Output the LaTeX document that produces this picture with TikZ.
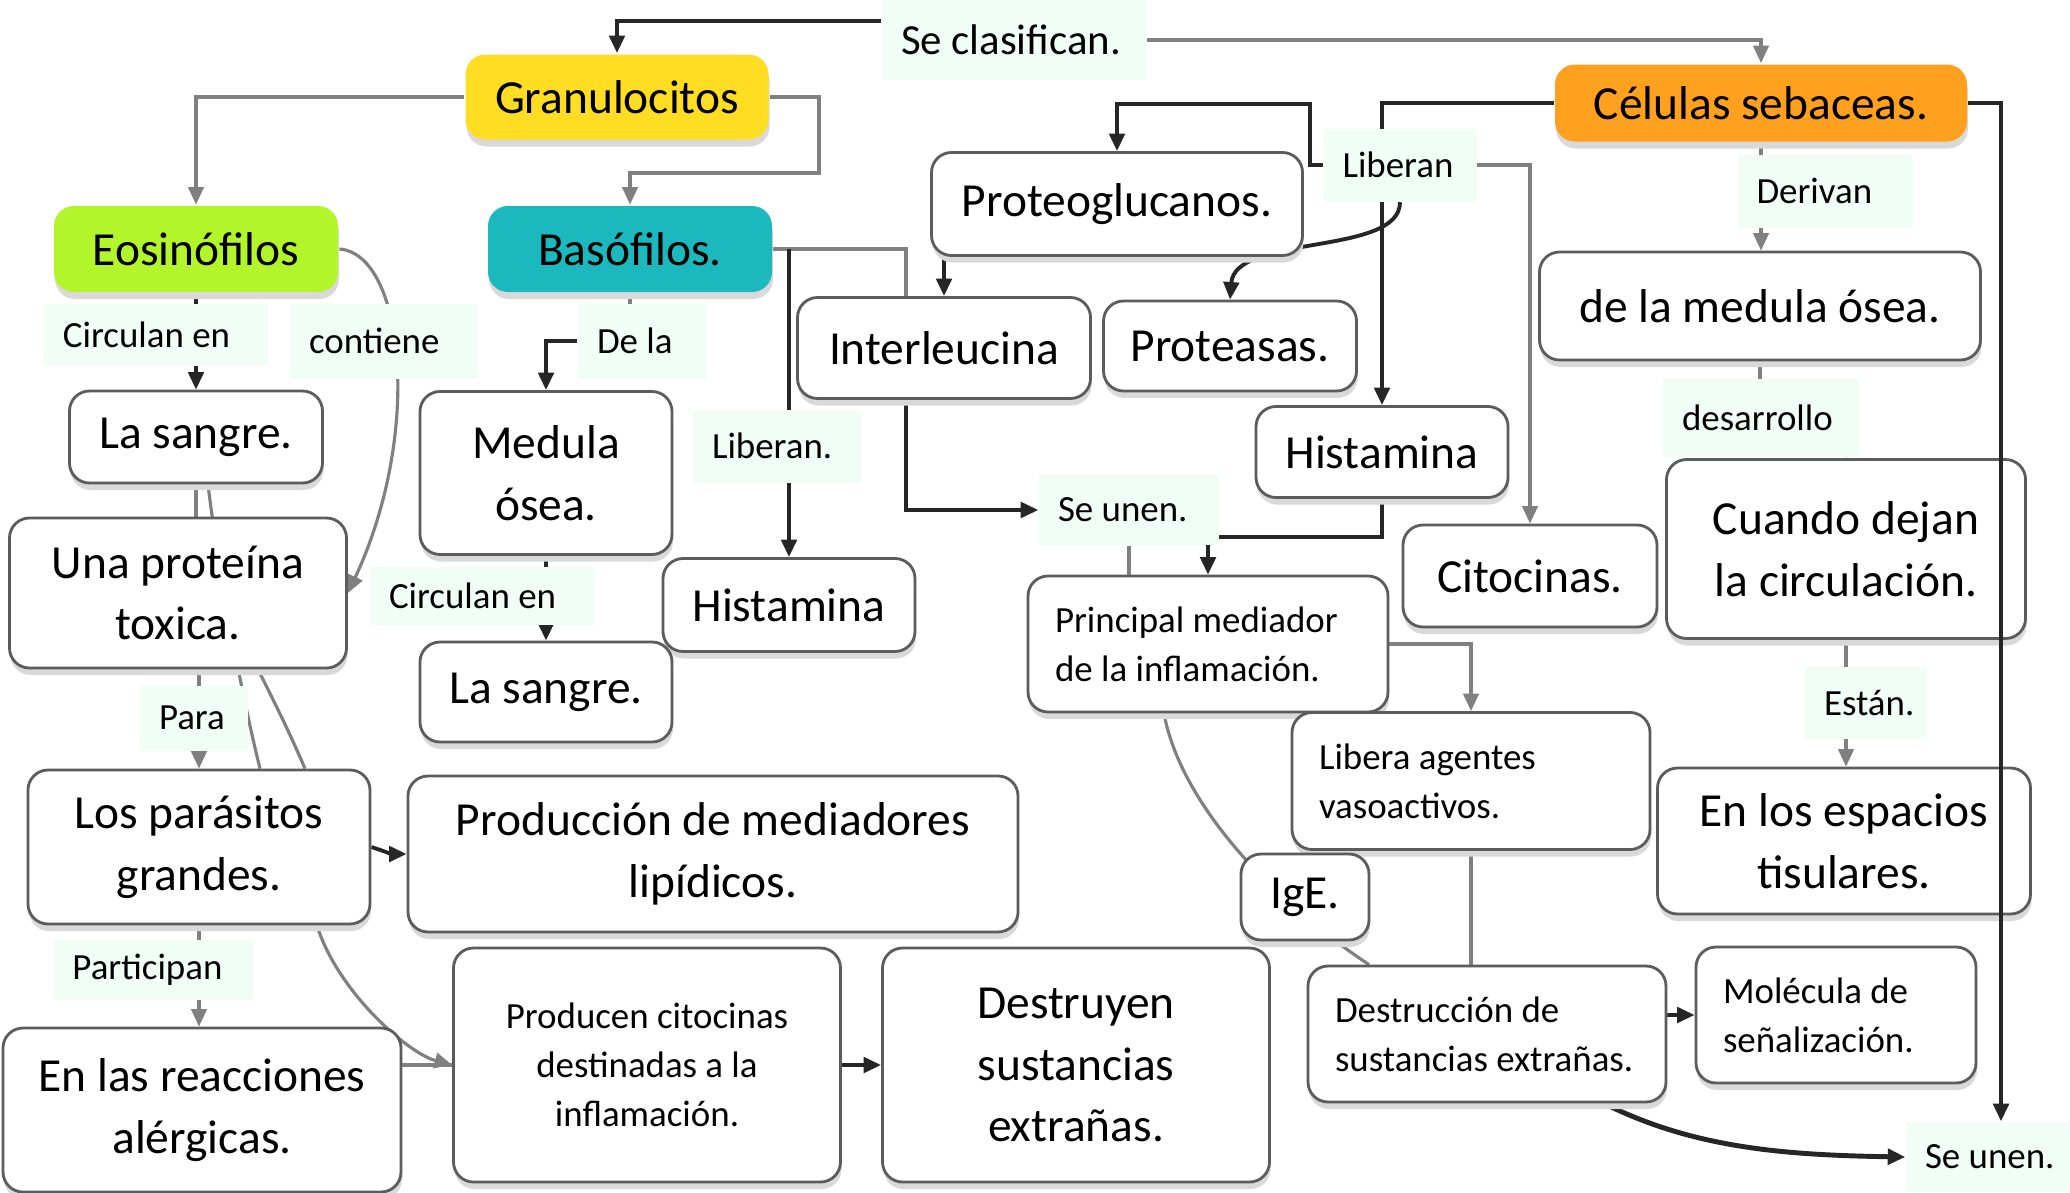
\documentclass[tikz,border=0pt]{standalone}
\usepackage{fontspec}
\setmainfont{Carlito}
\usetikzlibrary{arrows.meta,shadows,backgrounds}

\definecolor{granuyellow}{HTML}{FFDD22}
\definecolor{eosgreen}{HTML}{B2F52B}
\definecolor{basoteal}{HTML}{1BB9BD}
\definecolor{celorange}{HTML}{FFA01E}
\definecolor{tagbg}{HTML}{F0FEF6}
\definecolor{boxgray}{HTML}{5C5C5C}
\definecolor{linegray}{HTML}{808080}
\definecolor{linedark}{HTML}{262626}

\newcommand{\boxfont}{\fontsize{13.5}{17.6}\selectfont}
\newcommand{\tagfont}{\fontsize{10.5}{13.9}\selectfont}

\tikzset{
	box/.style={draw=boxgray, line width=0.8pt, rounded corners=0.2cm, fill=white, inner sep=0pt, align=center, font=\boxfont,
		drop shadow={shadow xshift=0.01cm, shadow yshift=-0.07cm, fill=black!15, opacity=1}},
	smallbox/.style={box, font=\tagfont},
	leftbox/.style={box, font=\tagfont, align=flush left, inner xsep=0.27cm},
	topic/.style={box, draw=none},
	tag/.style={fill=tagbg, inner xsep=0.19cm, inner ysep=0pt, align=flush left, font=\tagfont},
	conn/.style={draw=linegray, line width=0.9pt},
	darkconn/.style={draw=linedark, line width=1.1pt},
	arr/.style={-{Triangle[length=5pt,width=4.4pt]}}
}

\begin{document}
\begin{tikzpicture}
	\useasboundingbox (0,0) rectangle (20.7,-11.92);

	% top
	\node[tag, font=\fontsize{12.2}{15}\selectfont, text width=2.26cm, minimum height=0.80cm] (seclas) at (10.14,-0.40) {Se clasifican.};
	\node[topic, fill=granuyellow, minimum width=3.03cm, minimum height=0.85cm] (granu) at (6.17,-0.97) {Granulocitos};
	\node[topic, fill=celorange, minimum width=4.12cm, minimum height=0.77cm] (celulas) at (17.61,-1.03) {Células sebaceas.};
	\node[topic, fill=eosgreen, minimum width=2.84cm, minimum height=0.86cm] (eosin) at (1.96,-2.49) {Eosinófilos};
	\node[topic, fill=basoteal, minimum width=2.84cm, minimum height=0.86cm] (baso) at (6.30,-2.49) {Basófilos.};

	% boxes
	\node[box, minimum width=3.71cm, minimum height=1.03cm] (proteo) at (11.17,-2.04) {Proteoglucanos.};
	\node[box, minimum width=4.41cm, minimum height=1.08cm] (medulaB) at (17.60,-3.06) {de la medula ósea.};
	\node[box, minimum width=2.93cm, minimum height=1.01cm] (inter) at (9.44,-3.48) {Interleucina};
	\node[box, minimum width=2.53cm, minimum height=0.90cm] (protea) at (12.30,-3.46) {Proteasas.};
	\node[box, minimum width=2.52cm, minimum height=0.91cm] (histaB) at (13.82,-4.52) {Histamina};
	\node[box, minimum width=2.53cm, minimum height=0.92cm] (sangreA) at (1.96,-4.37) {La sangre.};
	\node[box, minimum width=2.52cm, minimum height=1.63cm] (medulaA) at (5.46,-4.73) {Medula\\ósea.};
	\node[box, minimum width=2.54cm, minimum height=1.02cm] (citoc) at (15.30,-5.76) {Citocinas.};
	\node[box, minimum width=3.59cm, minimum height=1.79cm] (cuando) at (18.46,-5.49) {Cuando dejan\\la circulación.};
	\node[box, minimum width=3.37cm, minimum height=1.50cm] (proteina) at (1.78,-5.93) {Una proteína\\toxica.};
	\node[box, minimum width=2.52cm, minimum height=0.93cm] (histaA) at (7.89,-6.05) {Histamina};
	\node[leftbox, text width=3.06cm, minimum width=3.60cm, minimum height=1.36cm] (princ) at (12.08,-6.44) {Principal mediador\\de la inflamación.};
	\node[box, minimum width=2.52cm, minimum height=1.00cm] (sangreB) at (5.46,-6.92) {La sangre.};
	\node[leftbox, text width=3.04cm, minimum width=3.58cm, minimum height=1.37cm] (libera) at (14.71,-7.81) {Libera agentes\\vasoactivos.};
	\node[box, minimum width=3.42cm, minimum height=1.54cm] (parasitos) at (1.99,-8.47) {Los parásitos\\grandes.};
	\node[box, minimum width=6.10cm, minimum height=1.56cm] (produccion) at (7.13,-8.54) {Producción de mediadores\\lipídicos.};
	\node[box, minimum width=3.73cm, minimum height=1.46cm] (espacios) at (18.44,-8.41) {En los espacios\\tisulares.};
	\node[box, minimum width=1.28cm, minimum height=0.86cm] (ige) at (13.05,-8.97) {IgE.};
	\node[box, minimum width=3.98cm, minimum height=1.64cm] (reacc) at (2.02,-11.10) {En las reacciones\\alérgicas.};
	\node[smallbox, minimum width=3.87cm, minimum height=2.34cm] (producen) at (6.47,-10.65) {Producen citocinas\\destinadas a la\\inflamación.};
	\node[box, minimum width=3.87cm, minimum height=2.34cm] (destruyen) at (10.76,-10.65) {Destruyen\\sustancias\\extrañas.};
	\node[leftbox, text width=3.04cm, minimum width=3.58cm, minimum height=1.36cm] (destruccion) at (14.87,-10.34) {Destrucción de\\sustancias extrañas.};
	\node[leftbox, text width=2.26cm, minimum width=2.80cm, minimum height=1.36cm] (molecula) at (18.36,-10.15) {Molécula de\\señalización.};

	% label
	\node[tag, text width=1.15cm, minimum height=0.73cm] (liberanA) at (14.00,-1.65) {Liberan};
	\node[tag, text width=1.37cm, minimum height=0.73cm] (derivan) at (18.25,-1.91) {Derivan};
	\node[tag, text width=1.86cm, minimum height=0.62cm] (circA) at (1.56,-3.35) {Circulan en};
	\node[tag, text width=1.50cm, minimum height=0.75cm] (contiene) at (3.84,-3.41) {contiene};
	\node[tag, text width=0.90cm, minimum height=0.75cm] (dela) at (6.42,-3.41) {De la};
	\node[tag, text width=1.58cm, minimum height=0.78cm] (desarr) at (17.61,-4.18) {desarrollo};
	\node[tag, text width=1.30cm, minimum height=0.73cm] (liberanB) at (7.77,-4.46) {Liberan.};
	\node[tag, text width=1.42cm, minimum height=0.70cm] (seunenA) at (11.29,-5.10) {Se unen.};
	\node[tag, text width=1.86cm, minimum height=0.58cm] (circB) at (4.82,-5.96) {Circulan en};
	\node[tag, text width=0.70cm, minimum height=0.65cm] (para) at (1.94,-7.18) {Para};
	\node[tag, text width=0.84cm, minimum height=0.72cm] (estan) at (18.66,-7.03) {Están.};
	\node[tag, text width=1.61cm, minimum height=0.60cm] (particip) at (1.53,-9.70) {Participan};
	\node[tag, text width=1.36cm, minimum height=0.70cm] (seunenB) at (19.93,-11.57) {Se unen.};

	\begin{scope}[on background layer]
		\fill[white] (0,0) rectangle (20.7,-11.92);
		% top
		\draw[darkconn, arr] ([yshift=0.19cm]seclas.west) -| (granu.north);
		\draw[conn, arr] (seclas.east) -| (celulas.north);
		\draw[conn, arr] (granu.west) -| (eosin.north);
		\draw[conn, arr] (granu.east) -- ++(0.49,0) -- ++(0,-0.76) -| (baso.north);
		% eosinofilos
		\draw[darkconn, arr] (eosin.south) -- (eosin.south |- sangreA.north);
		\draw[conn, arr] (eosin.east) .. controls +(0.65,-0.05) and +(0.75,1.6) .. (proteina.east);
		\draw[conn] (sangreA.south) -- (sangreA.south |- proteina.north);
		\draw[conn] ([xshift=0.12cm]sangreA.south) .. controls +(0.12,-1.0) and +(-0.15,0.6) .. ([xshift=0.61cm]parasitos.north);
		\draw[conn, arr] (parasitos.north |- proteina.south) -- (parasitos.north);
		\draw[conn] ([xshift=0.8cm]proteina.south) .. controls +(0.2,-0.4) and +(-0.15,0.35) .. ([xshift=1.06cm]parasitos.north);
		\draw[conn, arr] ([xshift=1.18cm]parasitos.south) .. controls +(0.2,-0.65) and +(-0.45,0.12) .. (producen.west);
		\draw[darkconn, arr] (parasitos.east) .. controls +(0.15,-0.05) and +(-0.15,0) .. (produccion.west);
		\draw[conn, arr] (parasitos.south) -- (parasitos.south |- reacc.north);
		\draw[conn] (reacc.east |- producen.west) -- (producen.west);
		\draw[darkconn, arr] (producen.east) -- (destruyen.west);
		% basofilos
		\draw[conn] (baso.south) -- (baso.south |- dela.center);
		\draw[darkconn, arr] (dela.west) -| (medulaA.north);
		\draw[darkconn, arr] (medulaA.south) -- (medulaA.south |- sangreB.north);
		\draw[conn] (baso.east) -| ([xshift=-0.38cm]inter.north);
		\draw[darkconn, arr] (baso.east -| histaA.north) -- (histaA.north);
		\draw[darkconn, arr] ([xshift=-0.38cm]inter.south) |- (seunenA.west);
		\draw[conn] (seunenA.south) -- (seunenA.south |- princ.north);
		% liberan
		\draw[darkconn, arr] (liberanA.west) -- ++(-0.13,0) -- ++(0,0.61) -| (proteo.north);
		\draw[darkconn, arr] (proteo.south -| inter.north) -- (inter.north);
		\draw[darkconn, arr] (liberanA.south) .. controls +(0,-0.54) and +(0.05,0.66) .. (protea.north);
		\draw[darkconn, arr] (celulas.west) -| (histaB.north);
		\draw[conn, arr] (liberanA.east) -| (citoc.north);
		\draw[darkconn, arr] (histaB.south) -- ++(0,-0.38) -| (princ.north);
		\draw[conn, arr] (princ.east) -| (libera.north);
		\draw[conn] ([xshift=-0.44cm]princ.south) .. controls +(0.16,-0.88) and +(-1.0,0.66) .. ([xshift=-1.18cm]destruccion.north);
		\draw[conn] (libera.south) -- (libera.south |- destruccion.north);
		\draw[darkconn, arr] (destruccion.east |- molecula.west) -- (molecula.west);
		\draw[darkconn, line width=1.4pt, arr] ([xshift=1.17cm]destruccion.south) .. controls +(0.9,-0.45) and +(-1.2,0.02) .. (seunenB.west);
		% celulas
		\draw[conn, arr] (celulas.south) -- (celulas.south |- medulaB.north);
		\draw[conn] (medulaB.south) -- (medulaB.south |- desarr.center);
		\draw[conn, arr] (desarr.center -| cuando.north) -- (cuando.north);
		\draw[conn, arr] (cuando.south) -- (cuando.south |- espacios.north);
	\end{scope}

	\draw[darkconn, arr] (celulas.east) -| ([xshift=0.08cm]seunenB.north);
\end{tikzpicture}
\end{document}
